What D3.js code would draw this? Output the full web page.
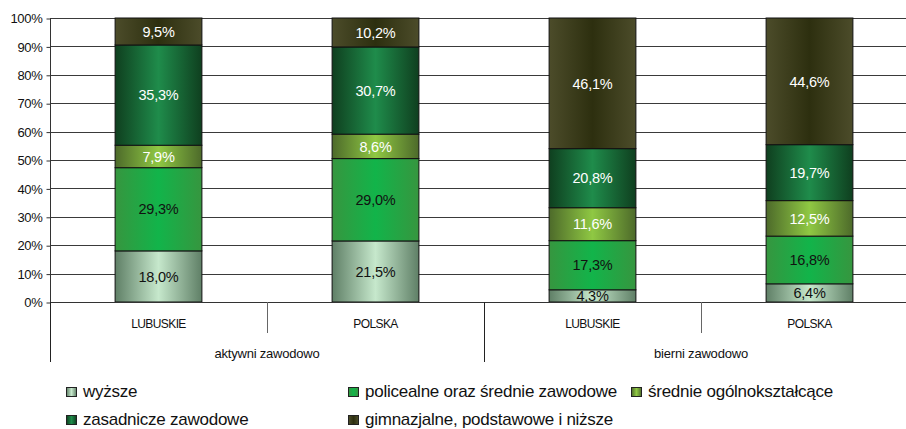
<!DOCTYPE html>
<html>
<head>
<meta charset="utf-8">
<script src="https://cdn.jsdelivr.net/npm/d3@7"></script>
<style>
  body { margin: 0; background: #fff; }
  text { font-family: "Liberation Sans", Arial, sans-serif; }
</style>
</head>
<body>
<div id="chart"></div>
<script>
// data
var groups = ["aktywni zawodowo", "bierni zawodowo"];
var regions = ["LUBUSKIE", "POLSKA", "LUBUSKIE", "POLSKA"];
var levels = ["wyższe", "policealne oraz średnie zawodowe", "średnie ogólnokształcące",
  "zasadnicze zawodowe", "gimnazjalne, podstawowe i niższe"];
var wyzsze      = [18.0, 21.5, 4.3, 6.4];
var policealne  = [29.3, 29.0, 17.3, 16.8];
var srednie     = [7.9, 8.6, 11.6, 12.5];
var zasadnicze  = [35.3, 30.7, 20.8, 19.7];
var gimnazjalne = [9.5, 10.2, 46.1, 44.6];
var yTicks = [0, 10, 20, 30, 40, 50, 60, 70, 80, 90, 100];

var seriesVals = [wyzsze, policealne, srednie, zasadnicze, gimnazjalne];
// gradient: edge, centre
var grads = [
  ["#5f7f66", "#c6e8cc"],
  ["#36963f", "#12b44a"],
  ["#4d6a2a", "#8fc843"],
  ["#0f3f1f", "#1f8c4b"],
  ["#4c4c2a", "#2d2f0f"]
];
var labelCol = ["#111", "#111", "#fff", "#fff", "#fff"];

var svgWidth = 906, svgHeight = 429;
var svg = d3.select("#chart").append("svg")
  .attr("width", svgWidth).attr("height", svgHeight);

var defs = svg.append("defs");
grads.forEach(function (g, i) {
  var lg = defs.append("linearGradient").attr("id", "g" + i)
    .attr("x1", "0%").attr("x2", "100%").attr("y1", "0%").attr("y2", "0%");
  lg.append("stop").attr("offset", "0%").attr("stop-color", g[0]);
  lg.append("stop").attr("offset", "50%").attr("stop-color", g[1]);
  lg.append("stop").attr("offset", "100%").attr("stop-color", g[0]);
});

var plotLeft = 50, plotRight = 918, plotTop = 18, plotBottom = 302;

var x = d3.scaleBand().domain(d3.range(regions.length)).range([plotLeft, plotRight]).padding(0);
var xg = d3.scaleBand().domain(groups).range([plotLeft, plotRight]).padding(0);
var y = d3.scaleLinear().domain([0, 100]).range([plotBottom, plotTop]);
var barW = x.bandwidth() * 0.4;

// gridlines
svg.append("g").selectAll("line").data(yTicks).join("line")
  .attr("x1", plotLeft).attr("x2", plotRight)
  .attr("y1", function (d) { return Math.round(y(d)) + 0.5; })
  .attr("y2", function (d) { return Math.round(y(d)) + 0.5; })
  .attr("stroke", "#3a3a3a").attr("stroke-width", 1);

// y axis
var yAxis = svg.append("g").attr("transform", "translate(" + (plotLeft + 0.5) + ",0.5)")
  .call(d3.axisLeft(y).tickValues(yTicks).tickSize(4).tickSizeOuter(0)
    .tickFormat(function (d) { return d + "%"; }));
yAxis.select(".domain").attr("stroke", "#333").attr("d", "M0," + y(100) + "V" + (plotBottom + 8));
yAxis.selectAll(".tick line").attr("stroke", "#333");
yAxis.selectAll("text").attr("font-size", 13).attr("fill", "#111")
  .attr("font-family", "Liberation Sans, Arial, sans-serif").attr("x", -8)
  .attr("letter-spacing", -0.3);

// stacked bars
var stackData = regions.map(function (r, i) {
  var row = { i: i };
  levels.forEach(function (l, k) { row[l] = seriesVals[k][i]; });
  return row;
});
var stacked = d3.stack().keys(levels)(stackData);

var layers = svg.append("g").selectAll("g").data(stacked).join("g");
layers.selectAll("rect").data(function (d) { return d.map(function (p) { return { p: p, k: d.index }; }); })
  .join("rect")
  .attr("x", function (d) { return x(d.p.data.i) + (x.bandwidth() - barW) / 2; })
  .attr("width", barW)
  .attr("y", function (d) { return y(Math.min(d.p[1], 100)); })
  .attr("height", function (d) { return y(d.p[0]) - y(Math.min(d.p[1], 100)); })
  .attr("fill", function (d) { return "url(#g" + d.k + ")"; })
  .attr("stroke", "#111").attr("stroke-width", 1);

layers.selectAll("text").data(function (d) { return d.map(function (p) { return { p: p, k: d.index }; }); })
  .join("text")
  .attr("x", function (d) { return x(d.p.data.i) + x.bandwidth() / 2; })
  .attr("y", function (d) { return (y(d.p[0]) + y(Math.min(d.p[1], 100))) / 2; })
  .attr("dy", "0.36em")
  .attr("text-anchor", "middle")
  .attr("font-size", 14.5)
  .attr("letter-spacing", -0.2)
  .attr("fill", function (d) { return labelCol[d.k]; })
  .text(function (d) { return (d.p[1] - d.p[0]).toFixed(1).replace(".", ",") + "%"; });

// x axis
svg.append("line").attr("x1", plotLeft).attr("x2", plotRight)
  .attr("y1", plotBottom + 0.5).attr("y2", plotBottom + 0.5).attr("stroke", "#333");
var xTicks = svg.append("g");
x.domain().forEach(function (i) {
  var xx = Math.round(x(i)) + 0.5;
  var long = i % 2 === 0;
  xTicks.append("line").attr("x1", xx).attr("x2", xx)
    .attr("y1", plotBottom).attr("y2", long ? 362 : 333)
    .attr("stroke", long ? "#222" : "#666");
});
svg.append("g").selectAll("text").data(regions).join("text")
  .attr("x", function (d, i) { return x(i) + x.bandwidth() / 2; })
  .attr("y", 328).attr("text-anchor", "middle")
  .attr("font-size", 12).attr("letter-spacing", -0.6).attr("fill", "#111")
  .text(function (d) { return d; });
svg.append("g").selectAll("text").data(groups).join("text")
  .attr("x", function (d) { return xg(d) + xg.bandwidth() / 2; })
  .attr("y", 358).attr("text-anchor", "middle")
  .attr("font-size", 13).attr("letter-spacing", -0.2).attr("fill", "#111")
  .text(function (d) { return d; });

// legend
var legPos = [[66, 397], [348, 397], [631, 397], [66, 425], [348, 425]];
var leg = svg.append("g").selectAll("g").data(levels).join("g")
  .attr("transform", function (d, i) { return "translate(" + legPos[i][0] + "," + legPos[i][1] + ")"; });
leg.append("rect").attr("x", 0.5).attr("y", -9.5).attr("width", 10).attr("height", 9)
  .attr("fill", function (d, i) { return "url(#g" + i + ")"; })
  .attr("stroke", "#222");
leg.append("text").attr("x", 17).attr("y", 0)
  .attr("font-size", 17).attr("letter-spacing", -0.25).attr("fill", "#111")
  .text(function (d) { return d; });
</script>
</body>
</html>
